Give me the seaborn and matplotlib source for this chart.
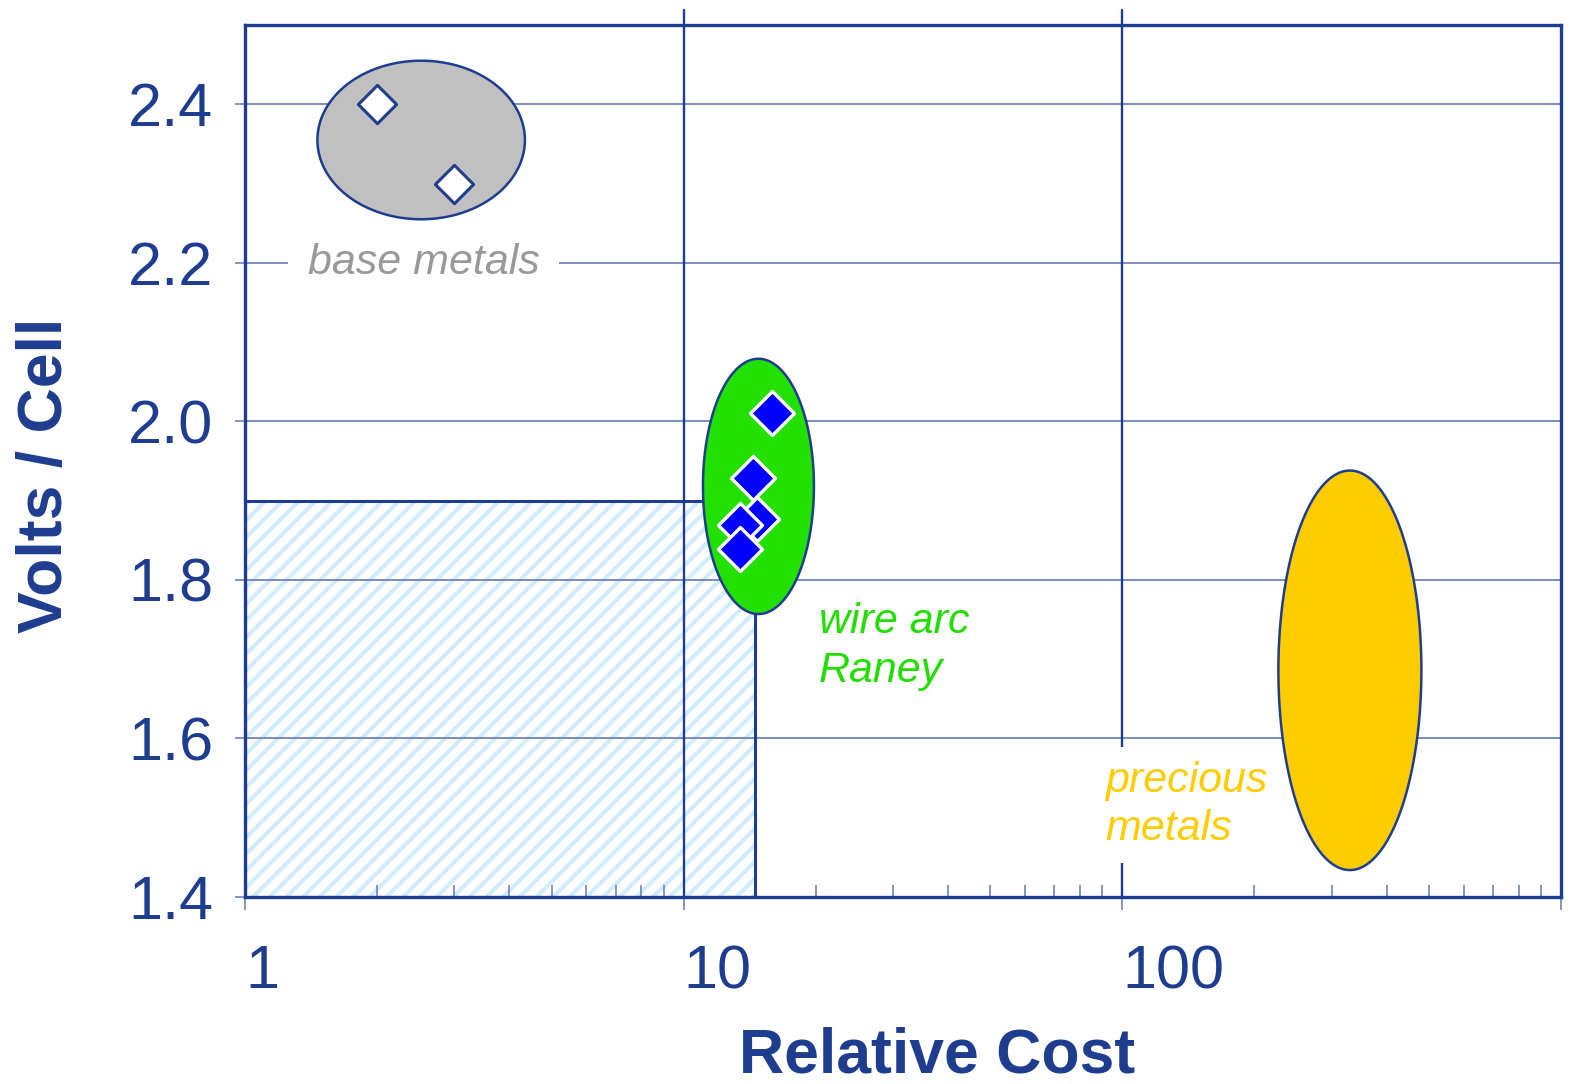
import numpy as np
import seaborn as sns
import matplotlib.pyplot as plt
import matplotlib.transforms as mtransforms
from matplotlib.patches import Rectangle

# base metals (open diamonds)
base_cost = [2.0, 3.0]
base_volts = [2.40, 2.30]

# wire arc Raney (filled diamonds)
raney_cost = [15.9, 14.4, 14.7, 13.4, 13.4]
raney_volts = [2.01, 1.928, 1.877, 1.869, 1.839]

# group regions: centre cost, centre volts, width (decades), height (volts)
ell_cost = [2.52, 14.8, 330.0]
ell_volts = [2.355, 1.918, 1.686]
ell_width_dec = [0.473, 0.253, 0.326]
ell_height = [0.200, 0.322, 0.504]
ell_colors = ["#c0c0c0", "#22e000", "#ffcc00"]

# target box (cost < 14.5, volts < 1.9)
target_cost = 14.5
target_volts = 1.9

x_ticks = [1, 10, 100, 1000]
x_ticklabels = ["1", "10", "100", ""]
y_ticks = [1.4, 1.6, 1.8, 2.0, 2.2, 2.4]
y_ticklabels = ["1.4", "1.6", "1.8", "2.0", "2.2", "2.4"]

navy = "#1f3d8f"
gridc = "#7083b9"

sns.set_style("white")
plt.rcParams["font.family"] = ["Liberation Sans", "DejaVu Sans"]
plt.rcParams["hatch.linewidth"] = 3.0

fig = plt.figure(figsize=(15.71, 10.84), dpi=100)
ax = fig.add_axes([0.156, 0.1725, 0.8377, 0.8044])
ax.set_xscale("log")
ax.set_xlim(1, 1000)
ax.set_ylim(1.4, 2.5)
ax.set_axisbelow(True)

# hatched target area
ax.add_patch(Rectangle((1, 1.4), target_cost - 1, target_volts - 1.4, facecolor="white",
                       edgecolor="#d2ecfc", hatch="//", linewidth=0, zorder=0.2))
ax.add_patch(Rectangle((1, 1.4), target_cost - 1, target_volts - 1.4, fill=False,
                       edgecolor=navy, linewidth=2.2, zorder=1.5))

# horizontal grid
ax.yaxis.grid(True, color=gridc, linewidth=1.3)
ax.xaxis.grid(False)

# vertical decade lines, running above the frame
trans = mtransforms.blended_transform_factory(ax.transData, ax.transAxes)
for xv in [10, 100]:
    ax.plot([xv, xv], [0, 1.017], transform=trans, clip_on=False, color=navy, lw=1.7, zorder=1)

# group ellipses
t = np.linspace(0, 2 * np.pi, 300)
for c, v, w, h, col in zip(ell_cost, ell_volts, ell_width_dec, ell_height, ell_colors):
    ex = 10 ** (np.log10(c) + w / 2 * np.cos(t))
    ey = v + h / 2 * np.sin(t)
    ax.fill(ex, ey, facecolor=col, edgecolor=navy, linewidth=1.8, zorder=2)

# points
sns.scatterplot(x=base_cost, y=base_volts, marker="D", s=380, color="white",
                edgecolor=navy, linewidth=2.2, ax=ax, zorder=5, legend=False)
sns.scatterplot(x=raney_cost, y=raney_volts, marker="D", s=500, color="#0000ff",
                edgecolor="white", linewidth=2.4, ax=ax, zorder=5, legend=False)

# group labels
ax.text(2.55, 2.20, "base metals", ha="center", va="center", fontsize=31, style="italic",
        color="#999999", zorder=1.2,
        bbox=dict(facecolor="white", edgecolor="none", pad=14))
ax.text(20.3, 1.716, "wire arc\nRaney", ha="left", va="center", fontsize=31, style="italic",
        color="#22dd00", zorder=1.2, linespacing=1.32)
ax.text(91.5, 1.516, "precious\nmetals", ha="left", va="center", fontsize=31, style="italic",
        color="#ffcc00", zorder=1.2, linespacing=1.28,
        bbox=dict(facecolor="white", edgecolor="none", pad=10))

# axes and ticks
ax.set_xticks(x_ticks)
ax.set_xticklabels(x_ticklabels)
ax.set_yticks(y_ticks)
ax.set_yticklabels(y_ticklabels)
for lbl in ax.get_xticklabels():
    lbl.set_ha("left")
ax.tick_params(axis="x", which="both", bottom=True)
ax.tick_params(axis="y", which="major", left=True)
ax.tick_params(axis="x", which="major", direction="out", length=9, width=1.2, color=gridc,
               labelsize=44, labelcolor=navy, pad=25)
ax.tick_params(axis="x", which="minor", direction="in", length=9, width=1.2, color=gridc)
ax.tick_params(axis="y", which="major", direction="out", length=7, width=1.2, color=gridc,
               labelsize=44, labelcolor=navy, pad=16)
for s in ax.spines.values():
    s.set_color(navy)
    s.set_linewidth(2.4)

ax.set_xlabel("Relative Cost", fontsize=45, fontweight="bold", color=navy)
ax.xaxis.label.set_va("baseline")
ax.xaxis.set_label_coords(0.526, -0.2007)
ax.set_ylabel("Volts / Cell", fontsize=45, fontweight="bold", color=navy)
ax.yaxis.label.set_va("center")
ax.yaxis.set_label_coords(-0.152, 0.484)

fig.savefig("out.png", dpi=100)
